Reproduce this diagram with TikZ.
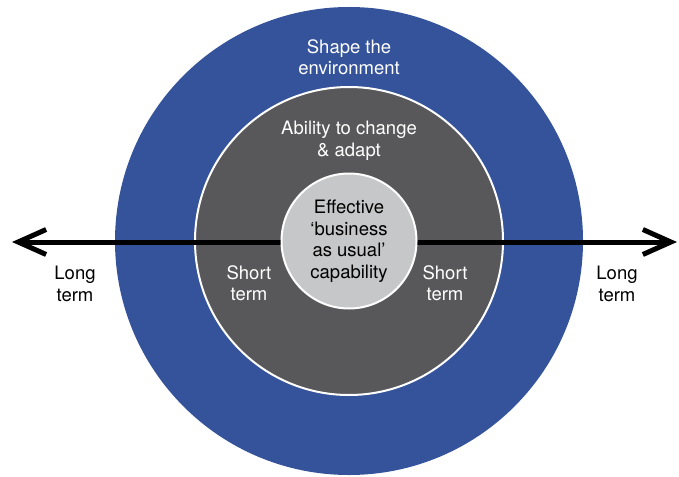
\documentclass[tikz,border=0pt]{standalone}
\usepackage{fontspec}
\setmainfont{TeX Gyre Heros}
\usetikzlibrary{arrows.meta}
\definecolor{ringblue}{HTML}{35539A}
\definecolor{ringgray}{HTML}{58585A}
\definecolor{coregray}{HTML}{C6C7C9}

\begin{document}
\begin{tikzpicture}[x=1pt, y=-1pt,
        txt/.style={align=center, font=\fontsize{18.5}{21.5}\selectfont}]
        \useasboundingbox (0,0) rectangle (679,476);

        % rings
        \node[circle, fill=ringblue, inner sep=0, minimum size=468] (ring_outer) at (349,241) {};
        \node[circle, fill=ringgray, draw=white, line width=2, inner sep=0, minimum size=308] (ring_mid) at (349,241) {};

        % time axis
        \coordinate (axis_left) at (12,242);
        \coordinate (axis_right) at (677,242);
        \draw[line width=5, {Straight Barb[length=28pt, width=25pt]}-{Straight Barb[length=28pt, width=25pt]}] (axis_left) -- (axis_right);

        % core
        \node[circle, fill=coregray, draw=white, line width=2, inner sep=0, minimum size=135] (ring_core) at (349,241) {};

        %% labels
        \node[txt, white] (lbl_shape) at (349,57) {Shape the\\environment};
        \node[txt, white] (lbl_adapt) at (349,141) {Ability to change\\\& adapt};
        \node[txt, black] (lbl_core) at (349,241) {Effective\\‘business\\as usual’\\capability};
        \node[txt, white] (lbl_short_l) at (249,283) {Short\\term};
        \node[txt, white] (lbl_short_r) at (445,283) {Short\\term};
        \node[txt, black] (lbl_long_l) at (75,284) {Long\\term};
        \node[txt, black] (lbl_long_r) at (617,284) {Long\\term};
\end{tikzpicture}
\end{document}
